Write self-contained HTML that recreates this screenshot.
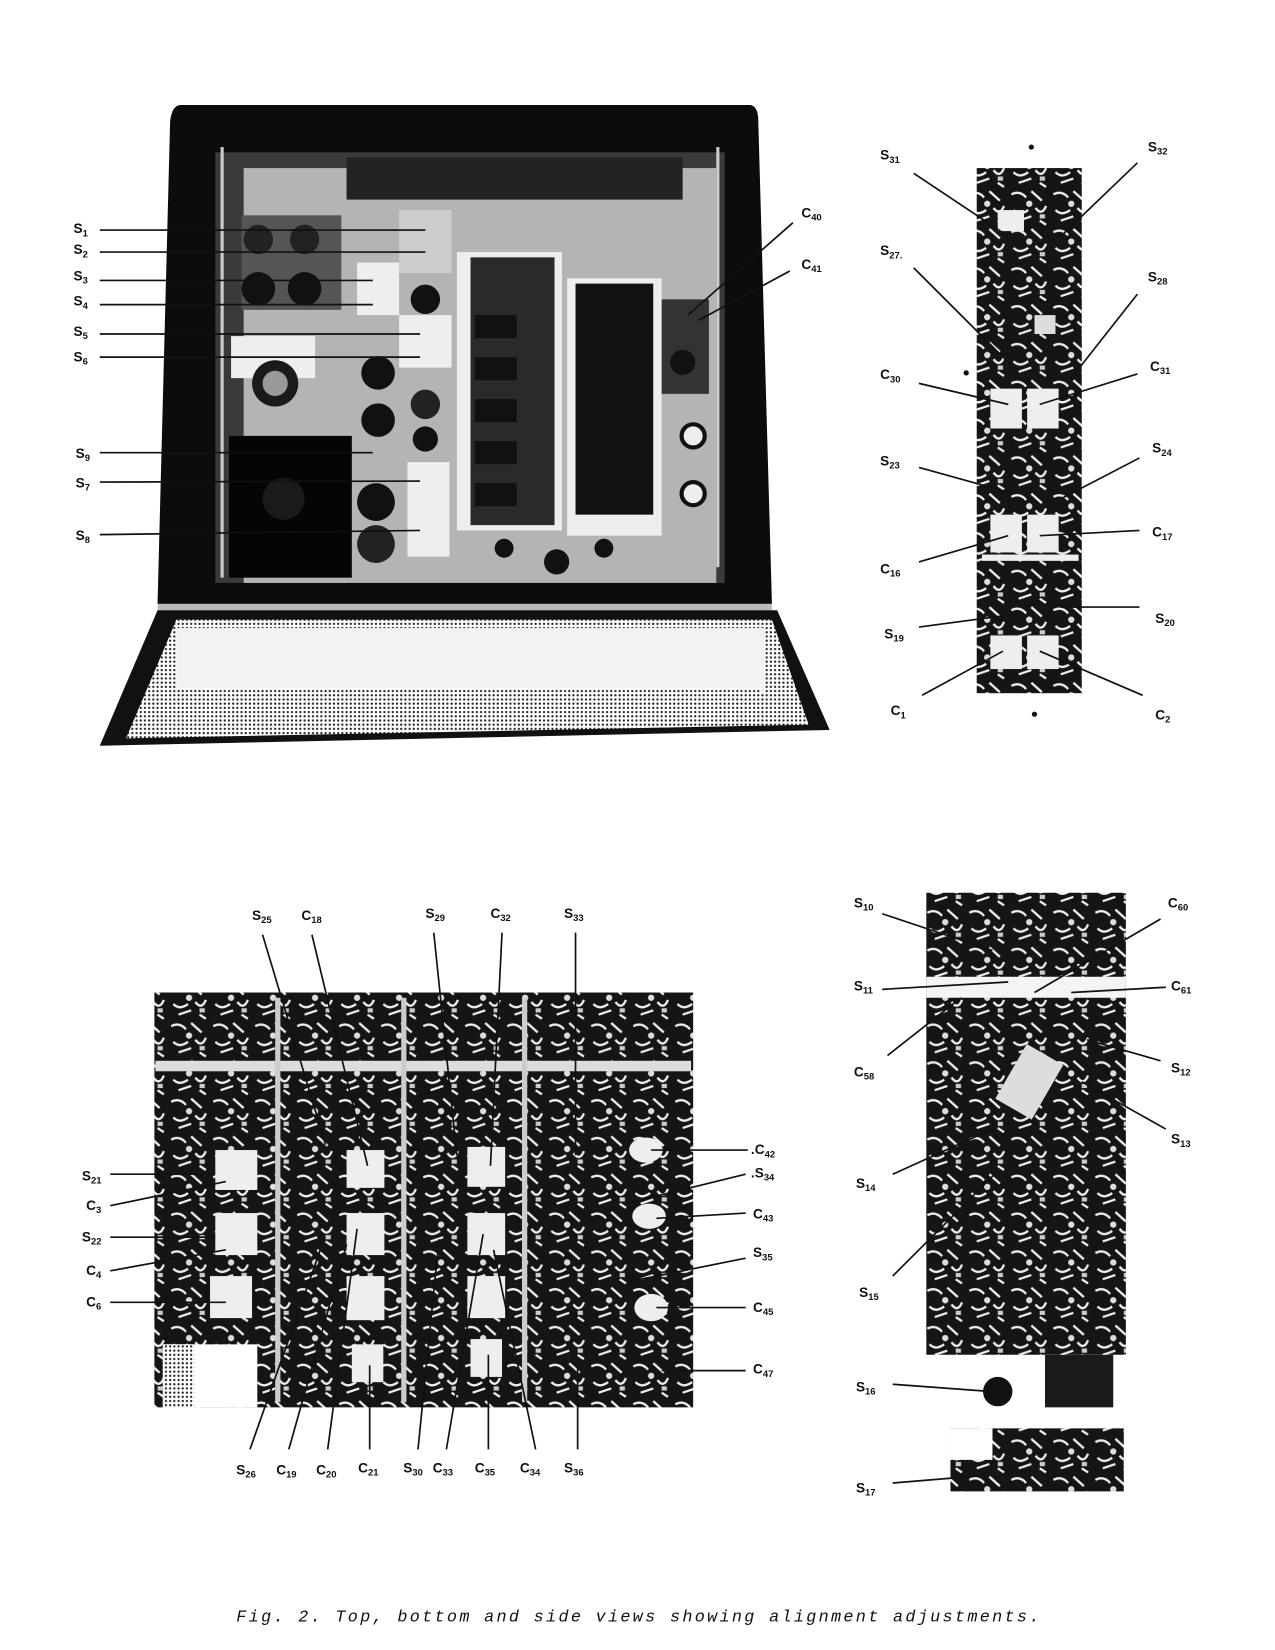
<!DOCTYPE html>
<html><head><meta charset="utf-8"><style>
html,body{margin:0;padding:0;background:#fff}
svg{display:block}
text{font-family:"Liberation Sans",sans-serif;font-weight:bold;font-size:13px;fill:#111}
.s{font-size:9px}
line{stroke:#111;stroke-width:1.6}
</style></head><body>
<svg width="1275" height="1650" viewBox="0 0 1214 1571" xmlns="http://www.w3.org/2000/svg">
<defs>
<pattern id="dots" width="4" height="4" patternUnits="userSpaceOnUse"><rect width="4" height="4" fill="#fff"/><circle cx="2" cy="2" r="1.1" fill="#222"/></pattern>
<pattern id="mess" width="40" height="36" patternUnits="userSpaceOnUse"><rect width="40" height="36" fill="#151515"/><path d="M3 5 q8 -4 14 3 M22 2 l10 9 M5 20 q6 6 14 0 M26 18 q6 8 10 -2 M10 30 l12 -4 M30 30 l6 4" stroke="#eee" stroke-width="2.2" fill="none"/><circle cx="20" cy="14" r="3" fill="#ddd"/><rect x="30" y="24" width="5" height="4" fill="#ccc"/></pattern>
<pattern id="coil" width="10" height="6" patternUnits="userSpaceOnUse"><rect width="10" height="6" fill="#111"/><line x1="0" y1="3" x2="10" y2="3" stroke="#555" stroke-width="1"/></pattern>
</defs>

<!-- TOP-LEFT PHOTO -->
<path d="M172 100 L715 100 Q722 102 722 115 L735 575 L150 575 L162 115 Q164 100 172 100Z" fill="#0c0c0c"/>
<rect x="205" y="145" width="485" height="410" fill="#3a3a3a"/>
<rect x="210" y="140" width="3" height="410" fill="#ccc"/>
<rect x="682" y="140" width="3" height="400" fill="#ccc"/>
<rect x="232" y="160" width="450" height="395" fill="#b4b4b4"/>
<rect x="330" y="150" width="320" height="40" fill="#222"/>
<rect x="230" y="205" width="95" height="90" fill="#555"/>
<circle cx="246" cy="228" r="14" fill="#222"/><circle cx="290" cy="228" r="14" fill="#222"/>
<circle cx="246" cy="275" r="16" fill="#111"/><circle cx="290" cy="275" r="16" fill="#111"/>
<rect x="340" y="250" width="40" height="50" fill="#eee"/>
<rect x="380" y="200" width="50" height="60" fill="#ccc"/>
<rect x="380" y="300" width="50" height="50" fill="#eee"/>
<rect x="220" y="320" width="80" height="40" fill="#eee"/>
<circle cx="262" cy="365" r="22" fill="#1a1a1a"/><circle cx="262" cy="365" r="12" fill="#999"/>
<circle cx="360" cy="355" r="16" fill="#111"/><circle cx="360" cy="400" r="16" fill="#111"/>
<circle cx="405" cy="385" r="14" fill="#222"/><circle cx="405" cy="418" r="12" fill="#111"/>
<circle cx="405" cy="285" r="14" fill="#111"/>
<rect x="218" y="415" width="117" height="135" fill="#050505"/>
<circle cx="270" cy="475" r="20" fill="#1a1a1a"/>
<circle cx="358" cy="478" r="18" fill="#111"/><circle cx="358" cy="518" r="18" fill="#222"/>
<rect x="388" y="440" width="40" height="90" fill="#eee"/>
<rect x="435" y="240" width="100" height="265" fill="#eee"/>
<rect x="448" y="245" width="80" height="255" fill="#2a2a2a"/>
<g fill="url(#coil)"><rect x="452" y="300" width="40" height="22"/><rect x="452" y="340" width="40" height="22"/><rect x="452" y="380" width="40" height="22"/><rect x="452" y="420" width="40" height="22"/><rect x="452" y="460" width="40" height="22"/></g>
<rect x="540" y="265" width="90" height="245" fill="#eee"/>
<rect x="548" y="270" width="74" height="220" fill="url(#coil)"/>
<circle cx="480" cy="522" r="9" fill="#111"/><circle cx="575" cy="522" r="9" fill="#111"/>
<circle cx="530" cy="535" r="12" fill="#111"/>
<rect x="630" y="285" width="45" height="90" fill="#333"/>
<circle cx="650" cy="345" r="12" fill="#111"/>
<circle cx="660" cy="415" r="11" fill="#eee" stroke="#111" stroke-width="4"/>
<circle cx="660" cy="470" r="11" fill="#eee" stroke="#111" stroke-width="4"/>
<rect x="150" y="575" width="585" height="6" fill="#bbb"/>
<path d="M150 581 L740 581 L790 695 L95 710Z" fill="#111"/>
<path d="M168 590 L735 590 L770 690 L120 703Z" fill="url(#dots)"/>
<rect x="168" y="598" width="560" height="62" fill="#f2f2f2"/>
<rect x="165" y="655" width="560" height="12" fill="url(#dots)"/>

<g>
<text x="70" y="222">S<tspan class="s" dy="3">1</tspan></text><line x1="95" y1="219" x2="405" y2="219"/>
<text x="70" y="242">S<tspan class="s" dy="3">2</tspan></text><line x1="95" y1="240" x2="405" y2="240"/>
<text x="70" y="267">S<tspan class="s" dy="3">3</tspan></text><line x1="95" y1="267" x2="355" y2="267"/>
<text x="70" y="291">S<tspan class="s" dy="3">4</tspan></text><line x1="95" y1="290" x2="355" y2="290"/>
<text x="70" y="320">S<tspan class="s" dy="3">5</tspan></text><line x1="95" y1="318" x2="400" y2="318"/>
<text x="70" y="344">S<tspan class="s" dy="3">6</tspan></text><line x1="95" y1="340" x2="400" y2="340"/>
<text x="72" y="436">S<tspan class="s" dy="3">9</tspan></text><line x1="95" y1="431" x2="355" y2="431"/>
<text x="72" y="464">S<tspan class="s" dy="3">7</tspan></text><line x1="95" y1="459" x2="400" y2="458"/>
<text x="72" y="514">S<tspan class="s" dy="3">8</tspan></text><line x1="95" y1="509" x2="400" y2="505"/>
<text x="763" y="207">C<tspan class="s" dy="3">40</tspan></text><line x1="755" y1="212" x2="655" y2="300"/>
<text x="763" y="256">C<tspan class="s" dy="3">41</tspan></text><line x1="752" y1="258" x2="665" y2="305"/>
</g>

<!-- TOP-RIGHT STRIP -->
<rect x="930" y="160" width="100" height="500" fill="url(#mess)"/>
<rect x="950" y="200" width="25" height="20" fill="#eee"/><rect x="985" y="300" width="20" height="18" fill="#ddd"/>
<rect x="943" y="370" width="30" height="38" fill="#eee"/><rect x="978" y="370" width="30" height="38" fill="#eee"/>
<rect x="943" y="490" width="30" height="36" fill="#eee"/><rect x="978" y="490" width="30" height="36" fill="#eee"/>
<rect x="943" y="605" width="30" height="32" fill="#eee"/><rect x="978" y="605" width="30" height="32" fill="#eee"/>
<rect x="935" y="528" width="92" height="6" fill="#eee"/>
<circle cx="982" cy="140" r="2.5" fill="#111"/><circle cx="985" cy="680" r="2.5" fill="#111"/><circle cx="920" cy="355" r="2.5" fill="#111"/>
<g>
<text x="838" y="152">S<tspan class="s" dy="3">31</tspan></text><line x1="870" y1="165" x2="960" y2="225"/>
<text x="1093" y="144">S<tspan class="s" dy="3">32</tspan></text><line x1="1083" y1="155" x2="1010" y2="225"/>
<text x="838" y="243">S<tspan class="s" dy="3">27.</tspan></text><line x1="870" y1="255" x2="965" y2="350"/>
<text x="1093" y="268">S<tspan class="s" dy="3">28</tspan></text><line x1="1083" y1="280" x2="1020" y2="360"/>
<text x="838" y="361">C<tspan class="s" dy="3">30</tspan></text><line x1="875" y1="365" x2="960" y2="385"/>
<text x="1095" y="353">C<tspan class="s" dy="3">31</tspan></text><line x1="1083" y1="356" x2="990" y2="385"/>
<text x="838" y="443">S<tspan class="s" dy="3">23</tspan></text><line x1="875" y1="445" x2="965" y2="470"/>
<text x="1097" y="431">S<tspan class="s" dy="3">24</tspan></text><line x1="1085" y1="436" x2="1010" y2="475"/>
<text x="838" y="546">C<tspan class="s" dy="3">16</tspan></text><line x1="875" y1="535" x2="960" y2="510"/>
<text x="1097" y="511">C<tspan class="s" dy="3">17</tspan></text><line x1="1085" y1="505" x2="990" y2="510"/>
<text x="842" y="608">S<tspan class="s" dy="3">19</tspan></text><line x1="875" y1="597" x2="965" y2="585"/>
<text x="1100" y="593">S<tspan class="s" dy="3">20</tspan></text><line x1="1085" y1="578" x2="1010" y2="578"/>
<text x="848" y="681">C<tspan class="s" dy="3">1</tspan></text><line x1="878" y1="662" x2="955" y2="620"/>
<text x="1100" y="685">C<tspan class="s" dy="3">2</tspan></text><line x1="1088" y1="662" x2="990" y2="620"/>
</g>

<!-- BOTTOM-LEFT PHOTO -->
<rect x="147" y="945" width="513" height="395" fill="url(#mess)"/>
<rect x="148" y="1010" width="510" height="10" fill="#ddd"/>
<rect x="262" y="950" width="5" height="385" fill="#ccc"/><rect x="382" y="950" width="5" height="385" fill="#ccc"/><rect x="497" y="950" width="5" height="385" fill="#ccc"/>
<rect x="205" y="1095" width="40" height="38" fill="#eee"/><rect x="205" y="1155" width="40" height="40" fill="#eee"/><rect x="200" y="1215" width="40" height="40" fill="#eee"/>
<rect x="330" y="1095" width="36" height="36" fill="#eee"/><rect x="330" y="1155" width="36" height="40" fill="#eee"/><rect x="330" y="1215" width="36" height="42" fill="#eee"/><rect x="335" y="1280" width="30" height="36" fill="#eee"/>
<rect x="445" y="1092" width="36" height="38" fill="#eee"/><rect x="445" y="1155" width="36" height="40" fill="#eee"/><rect x="445" y="1215" width="36" height="40" fill="#eee"/><rect x="448" y="1275" width="30" height="36" fill="#eee"/>
<ellipse cx="615" cy="1095" rx="16" ry="12" fill="#eee"/><ellipse cx="618" cy="1158" rx="16" ry="12" fill="#eee"/><ellipse cx="620" cy="1245" rx="16" ry="13" fill="#eee"/>
<rect x="155" y="1280" width="90" height="60" fill="#fff"/>
<rect x="155" y="1280" width="30" height="60" fill="url(#dots)"/>
<g>
<text x="240" y="876">S<tspan class="s" dy="3">25</tspan></text><line x1="250" y1="890" x2="310" y2="1090"/>
<text x="287" y="876">C<tspan class="s" dy="3">18</tspan></text><line x1="297" y1="890" x2="350" y2="1110"/>
<text x="405" y="874">S<tspan class="s" dy="3">29</tspan></text><line x1="413" y1="888" x2="435" y2="1100"/>
<text x="467" y="874">C<tspan class="s" dy="3">32</tspan></text><line x1="478" y1="888" x2="467" y2="1110"/>
<text x="537" y="874">S<tspan class="s" dy="3">33</tspan></text><line x1="548" y1="888" x2="548" y2="1100"/>
<text x="78" y="1124">S<tspan class="s" dy="3">21</tspan></text><line x1="105" y1="1118" x2="200" y2="1118"/>
<text x="82" y="1152">C<tspan class="s" dy="3">3</tspan></text><line x1="105" y1="1148" x2="215" y2="1125"/>
<text x="78" y="1182">S<tspan class="s" dy="3">22</tspan></text><line x1="105" y1="1178" x2="205" y2="1178"/>
<text x="82" y="1214">C<tspan class="s" dy="3">4</tspan></text><line x1="105" y1="1210" x2="215" y2="1190"/>
<text x="82" y="1244">C<tspan class="s" dy="3">6</tspan></text><line x1="105" y1="1240" x2="215" y2="1240"/>
<text x="225" y="1404">S<tspan class="s" dy="3">26</tspan></text><line x1="238" y1="1380" x2="305" y2="1190"/>
<text x="263" y="1404">C<tspan class="s" dy="3">19</tspan></text><line x1="275" y1="1380" x2="330" y2="1185"/>
<text x="301" y="1404">C<tspan class="s" dy="3">20</tspan></text><line x1="312" y1="1380" x2="340" y2="1170"/>
<text x="341" y="1402">C<tspan class="s" dy="3">21</tspan></text><line x1="352" y1="1380" x2="352" y2="1300"/>
<text x="384" y="1402">S<tspan class="s" dy="3">30</tspan></text><line x1="398" y1="1380" x2="418" y2="1180"/>
<text x="412" y="1402">C<tspan class="s" dy="3">33</tspan></text><line x1="425" y1="1380" x2="460" y2="1175"/>
<text x="452" y="1402">C<tspan class="s" dy="3">35</tspan></text><line x1="465" y1="1380" x2="465" y2="1290"/>
<text x="495" y="1402">C<tspan class="s" dy="3">34</tspan></text><line x1="510" y1="1380" x2="470" y2="1190"/>
<text x="537" y="1402">S<tspan class="s" dy="3">36</tspan></text><line x1="550" y1="1380" x2="550" y2="1300"/>
<text x="715" y="1099">.C<tspan class="s" dy="3">42</tspan></text><line x1="712" y1="1095" x2="620" y2="1095"/>
<text x="715" y="1121">.S<tspan class="s" dy="3">34</tspan></text><line x1="710" y1="1118" x2="600" y2="1145"/>
<text x="717" y="1160">C<tspan class="s" dy="3">43</tspan></text><line x1="710" y1="1155" x2="625" y2="1160"/>
<text x="717" y="1197">S<tspan class="s" dy="3">35</tspan></text><line x1="710" y1="1198" x2="600" y2="1220"/>
<text x="717" y="1249">C<tspan class="s" dy="3">45</tspan></text><line x1="710" y1="1245" x2="625" y2="1245"/>
<text x="717" y="1308">C<tspan class="s" dy="3">47</tspan></text><line x1="710" y1="1305" x2="630" y2="1305"/>
</g>

<!-- BOTTOM-RIGHT STRIP -->
<rect x="882" y="850" width="190" height="440" fill="url(#mess)"/>
<rect x="882" y="930" width="190" height="20" fill="#f4f4f4"/>
<rect x="960" y="1000" width="40" height="60" fill="#ddd" transform="rotate(30 980 1030)"/>
<rect x="882" y="1290" width="190" height="130" fill="#fff"/>
<rect x="995" y="1290" width="65" height="50" fill="#1a1a1a"/>
<circle cx="950" cy="1325" r="14" fill="#111"/>
<rect x="905" y="1360" width="165" height="60" fill="url(#mess)"/>
<rect x="905" y="1360" width="40" height="30" fill="#fff"/>
<g>
<text x="813" y="864">S<tspan class="s" dy="3">10</tspan></text><line x1="840" y1="870" x2="945" y2="905"/>
<text x="1112" y="864">C<tspan class="s" dy="3">60</tspan></text><line x1="1105" y1="875" x2="985" y2="945"/>
<text x="813" y="943">S<tspan class="s" dy="3">11</tspan></text><line x1="840" y1="942" x2="960" y2="935"/>
<text x="1115" y="943">C<tspan class="s" dy="3">61</tspan></text><line x1="1110" y1="940" x2="1020" y2="945"/>
<text x="813" y="1025">C<tspan class="s" dy="3">58</tspan></text><line x1="845" y1="1005" x2="915" y2="950"/>
<text x="1115" y="1021">S<tspan class="s" dy="3">12</tspan></text><line x1="1105" y1="1010" x2="1035" y2="990"/>
<text x="1115" y="1089">S<tspan class="s" dy="3">13</tspan></text><line x1="1110" y1="1075" x2="1030" y2="1030"/>
<text x="815" y="1131">S<tspan class="s" dy="3">14</tspan></text><line x1="850" y1="1118" x2="945" y2="1075"/>
<text x="818" y="1235">S<tspan class="s" dy="3">15</tspan></text><line x1="850" y1="1215" x2="950" y2="1115"/>
<text x="815" y="1325">S<tspan class="s" dy="3">16</tspan></text><line x1="850" y1="1318" x2="945" y2="1325"/>
<text x="815" y="1421">S<tspan class="s" dy="3">17</tspan></text><line x1="850" y1="1412" x2="935" y2="1405"/>
</g>

<text x="225" y="1544" style="font-family:'Liberation Mono',monospace;font-style:italic;font-weight:normal;font-size:16px;letter-spacing:2.2px">Fig. 2. Top, bottom and side views showing alignment adjustments.</text>
</svg>
</body></html>
